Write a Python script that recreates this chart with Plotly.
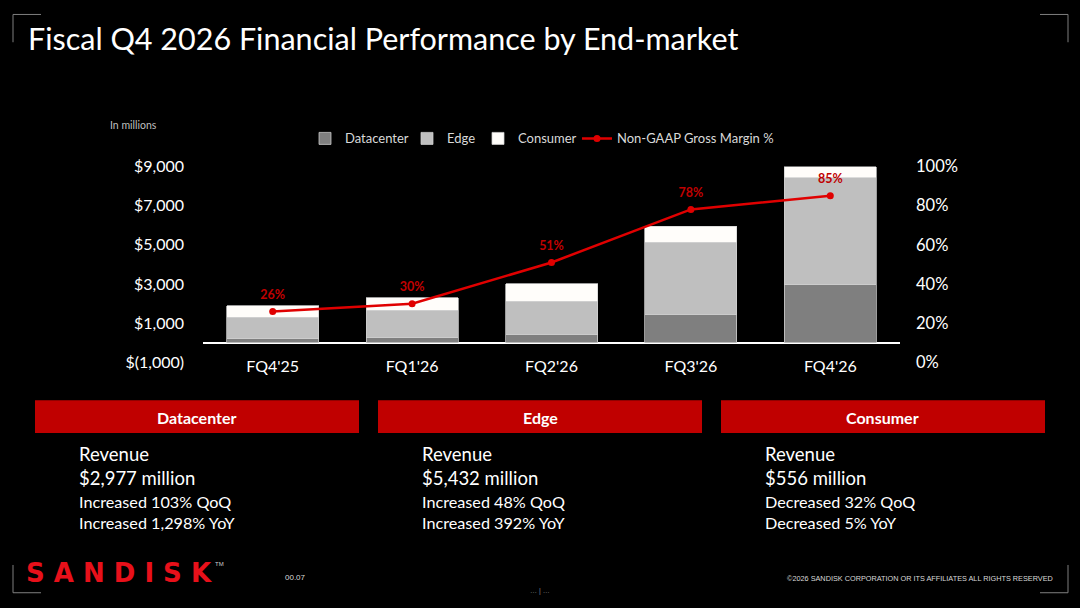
import plotly.graph_objects as go

# ---------------- data ----------------
quarters = ["FQ4'25", "FQ1'26", "FQ2'26", "FQ3'26", "FQ4'26"]
datacenter = [213, 269, 440, 1467, 2977]
edge = [1104, 1387, 1678, 3670, 5432]
consumer = [585, 652, 907, 818, 556]
gross_margin = [26, 30, 51, 78, 85]

left_tickvals = [-1000, 1000, 3000, 5000, 7000, 9000]
left_ticktext = ["$(1,000)", "$1,000", "$3,000", "$5,000", "$7,000", "$9,000"]
right_tickvals = [0, 20, 40, 60, 80, 100]
right_ticktext = ["0%", "20%", "40%", "60%", "80%", "100%"]

segments = ["Datacenter", "Edge", "Consumer"]
seg_revenue = ["$2,977 million", "$5,432 million", "$556 million"]
seg_qoq = ["Increased 103% QoQ", "Increased 48% QoQ", "Decreased 32% QoQ"]
seg_yoy = ["Increased 1,298% YoY", "Increased 392% YoY", "Decreased 5% YoY"]

W, H = 1080, 608
FONT = "Lato"


def px(x):
    return x / W


def py(y):
    # page-pixel row -> paper fraction (compensates the capture offset/scale seen)
    return 1 - ((y - 7.5) / 0.975) / H


fig = go.Figure()

bar_line = dict(color="#d0d0d0", width=0.75)
fig.add_trace(go.Bar(x=quarters, y=datacenter, name="Datacenter", legend="legend",
                     marker=dict(color="#7f7f7f", line=bar_line)))
fig.add_trace(go.Bar(x=quarters, y=edge, name="Edge", legend="legend2",
                     marker=dict(color="#bfbfbf", line=bar_line)))
fig.add_trace(go.Bar(x=quarters, y=consumer, name="Consumer", legend="legend3",
                     marker=dict(color="#fffdfa", line=bar_line)))
fig.add_trace(go.Scatter(
    x=quarters, y=gross_margin, name="Non-GAAP Gross Margin %", yaxis="y2",
    legend="legend4", mode="lines+markers",
    line=dict(color="#e00000", width=2.5),
    marker=dict(color="#e00000", size=7),
))
# data labels for the margin line (transparent marker gives the label offset)
fig.add_trace(go.Scatter(
    x=quarters, y=gross_margin, yaxis="y2", showlegend=False, hoverinfo="skip",
    mode="markers+text", cliponaxis=False,
    marker=dict(color="rgba(0,0,0,0)", size=14),
    text=[f"<b>{v}%</b>" for v in gross_margin], textposition="top center",
    textfont=dict(color="#c00000", size=12.5, family=FONT),
))

leg_common = dict(orientation="h", xanchor="left", y=py(137), yanchor="middle",
                  font=dict(size=13, color="#d9d9d9", family=FONT),
                  bgcolor="rgba(0,0,0,0)", itemwidth=30, borderwidth=0)

fig.update_layout(
    width=W, height=H,
    margin=dict(l=0, r=0, t=0, b=0, pad=0),
    paper_bgcolor="#000000", plot_bgcolor="#000000",
    font=dict(family=FONT, color="#ffffff"),
    barmode="stack", bargap=0.34,
    showlegend=True,
    legend=dict(x=px(345 - 40), **leg_common),
    legend2=dict(x=px(447 - 40), **leg_common),
    legend3=dict(x=px(518 - 40), **leg_common),
    legend4=dict(x=px(617 - 40), **leg_common),
    xaxis=dict(domain=[px(203), px(900)], anchor="free", position=py(355),
               showgrid=False, showline=False, ticks="", zeroline=False,
               tickfont=dict(size=16, color="#ffffff")),
    yaxis=dict(domain=[py(363), py(165)], range=[-1000, 9000],
               tickvals=left_tickvals, ticktext=left_ticktext,
               showgrid=False, zeroline=True, zerolinecolor="#ffffff",
               zerolinewidth=1.5, showline=False, ticks="",
               ticklabelstandoff=18,
               tickfont=dict(size=16, color="#ffffff")),
    yaxis2=dict(overlaying="y", side="right", range=[0, 100],
                tickvals=right_tickvals, ticktext=right_ticktext,
                showgrid=False, zeroline=False, showline=False, ticks="",
                ticklabelstandoff=15,
                tickfont=dict(size=16.5, color="#ffffff")),
)

ann = []
ann.append(dict(text="Fiscal Q4 2026 Financial Performance by End-market",
                x=px(26), y=py(36), xanchor="left", yanchor="middle",
                font=dict(size=30.5, color="#ffffff", family=FONT)))
ann.append(dict(text="In millions", x=px(108), y=py(123), xanchor="left",
                yanchor="middle", font=dict(size=10.5, color="#bfbfbf", family=FONT)))

box_left = [35, 378, 721]
box_w = 324
text_left = [77, 420, 763]
shapes = []
for i, name in enumerate(segments):
    x0 = box_left[i]
    shapes.append(dict(type="rect", xref="paper", yref="paper",
                       x0=px(x0), x1=px(x0 + box_w), y0=py(434), y1=py(401),
                       fillcolor="#c00000", line=dict(width=0), layer="below"))
    ann.append(dict(text=f"<b>{name}</b>", x=px(x0 + box_w / 2), y=py(418),
                    xanchor="center", yanchor="middle",
                    font=dict(size=16, color="#ffffff", family=FONT)))
    ann.append(dict(text="Revenue", x=px(text_left[i]), y=py(455), xanchor="left",
                    yanchor="middle", font=dict(size=18.5, color="#ffffff", family=FONT)))
    ann.append(dict(text=seg_revenue[i], x=px(text_left[i]), y=py(479), xanchor="left",
                    yanchor="middle", font=dict(size=18.5, color="#ffffff", family=FONT)))
    ann.append(dict(text=seg_qoq[i], x=px(text_left[i]), y=py(503), xanchor="left",
                    yanchor="middle", font=dict(size=16.2, color="#ffffff", family=FONT)))
    ann.append(dict(text=seg_yoy[i], x=px(text_left[i]), y=py(524), xanchor="left",
                    yanchor="middle", font=dict(size=16.2, color="#ffffff", family=FONT)))

# footer
ann.append(dict(text="<b>S A N D I S K</b>", x=px(24), y=py(575), xanchor="left",
                yanchor="middle",
                font=dict(size=26, color="#e8101a", family="DejaVu Sans")))
ann.append(dict(text="TM", x=px(213), y=py(566), xanchor="left", yanchor="middle",
                font=dict(size=6, color="#cccccc", family="Liberation Sans")))
ann.append(dict(text="00.07", x=px(283), y=py(580), xanchor="left", yanchor="middle",
                font=dict(size=8, color="#d9d9d9", family="Liberation Sans")))
ann.append(dict(text="©2026 SANDISK CORPORATION OR ITS AFFILIATES ALL RIGHTS RESERVED",
                x=px(1055), y=py(581), xanchor="right", yanchor="middle",
                font=dict(size=7.3, color="#d9d9d9", family="Liberation Sans Narrow, Liberation Sans")))
ann.append(dict(text="… | …", x=px(540), y=py(593), xanchor="center", yanchor="middle",
                font=dict(size=7, color="#8c8c8c", family="Liberation Sans")))

# corner brackets
gray = dict(color="#7f7f7f", width=1)
for (cx, cy, dx, dy) in [(13, 12, 1, 1), (1068, 12, -1, 1), (13, 595, 1, -1), (1068, 595, -1, -1)]:
    shapes.append(dict(type="line", xref="paper", yref="paper",
                       x0=px(cx), x1=px(cx + 28 * dx), y0=py(cy), y1=py(cy), line=gray))
    shapes.append(dict(type="line", xref="paper", yref="paper",
                       x0=px(cx), x1=px(cx), y0=py(cy), y1=py(cy + 28 * dy), line=gray))

fig.update_layout(annotations=ann, shapes=shapes)
for a in fig.layout.annotations:
    a.showarrow = False
    a.xref = "paper"
    a.yref = "paper"

fig.write_html(
    "out.html",
    config={"displayModeBar": False},
    post_script=(
        "document.documentElement.style.margin='0';"
        "document.documentElement.style.padding='0';"
        "document.documentElement.style.overflow='hidden';"
        "document.documentElement.style.background='#000';"
        "document.body.style.margin='0';"
        "document.body.style.padding='0';"
        "document.body.style.overflow='hidden';"
        "document.body.style.background='#000';"
    ),
)
